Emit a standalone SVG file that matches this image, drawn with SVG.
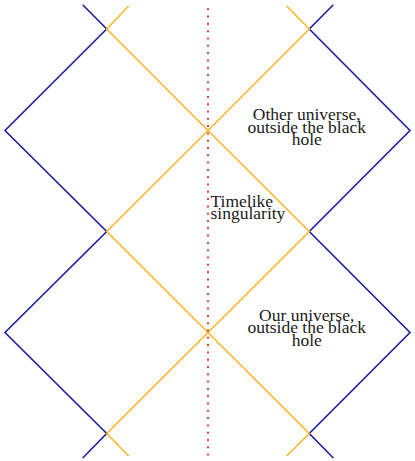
<svg xmlns="http://www.w3.org/2000/svg" width="415" height="461" viewBox="0 0 415 461">
<style>
.blue{fill:none;stroke:#1f1f9e;stroke-width:1.6;stroke-linejoin:miter}
.orange{fill:none;stroke:#ffb72a;stroke-width:1.6}
.sing{fill:none;stroke:#f03c3c;stroke-width:2;stroke-dasharray:2 5.3}
.lbl{font-family:"Liberation Serif","Times New Roman",serif;font-size:17.5px;fill:#1a1a1a}
</style>
<rect width="415" height="461" fill="#ffffff"/>
<g id="connectors">
<polyline class="blue" points="82.7,4.7 106.7,29 5,130.5 106.7,231.5 5,332.5 106.7,433.5 82.7,458"/>
<polyline class="blue" points="333.3,4.7 309.3,29 410,130.5 309.3,231.5 410,332.5 309.3,433.5 333.3,458"/>
<polyline class="orange" points="128.7,6 106.7,29 208,130.5 309.3,231.5 208,332.5 106.7,433.5 128.7,456"/>
<polyline class="orange" points="286.7,6 309.3,29 208,130.5 106.7,231.5 208,332.5 309.3,433.5 286.7,456"/>
<line class="sing" x1="208" y1="8.3" x2="208" y2="456"/>
</g>
<g id="other-universe">
<text class="lbl" text-anchor="middle"><tspan x="306.7" y="120">Other universe,</tspan><tspan x="306.7" y="132.5">outside the black</tspan><tspan x="306.7" y="145">hole</tspan></text>
</g>
<g id="timelike-singularity">
<text class="lbl"><tspan x="210.5" y="206.7">Timelike</tspan><tspan x="210.5" y="219.2">singularity</tspan></text>
</g>
<g id="our-universe">
<text class="lbl" text-anchor="middle"><tspan x="306.7" y="320.7">Our universe,</tspan><tspan x="306.7" y="333.2">outside the black</tspan><tspan x="306.7" y="345.7">hole</tspan></text>
</g>
</svg>
